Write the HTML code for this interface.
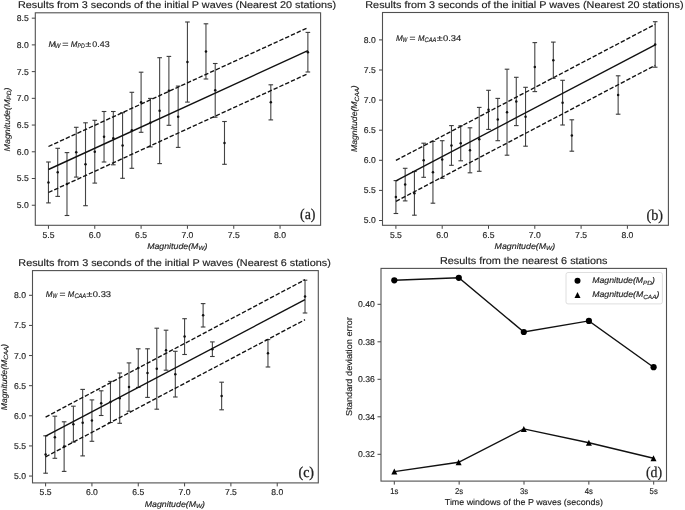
<!DOCTYPE html>
<html><head><meta charset="utf-8"><title>figure</title>
<style>
html,body{margin:0;padding:0;background:#fff;}
body{width:685px;height:510px;overflow:hidden;}
svg{display:block;}
.t{stroke:#222;stroke-width:0.15px;}

</style></head><body>
<svg style="filter:blur(0.3px)" text-rendering="geometricPrecision" width="685" height="510" viewBox="0 0 685 510">
<rect width="685" height="510" fill="#fff"/>
<text x="18" y="7.7" font-size="9.8" fill="#222" font-family='"Liberation Sans", sans-serif' textLength="318" lengthAdjust="spacingAndGlyphs" class="t">Results from 3 seconds of the initial P waves (Nearest 20 stations)</text>
<line x1="48.45" y1="225.3" x2="48.45" y2="228.8" stroke="#444" stroke-width="1" />
<text x="48.45" y="237.5" font-size="8.5" fill="#222" font-family='"Liberation Sans", sans-serif' text-anchor="middle" textLength="12" lengthAdjust="spacingAndGlyphs" class="t">5.5</text>
<line x1="94.78" y1="225.3" x2="94.78" y2="228.8" stroke="#444" stroke-width="1" />
<text x="94.78" y="237.5" font-size="8.5" fill="#222" font-family='"Liberation Sans", sans-serif' text-anchor="middle" textLength="12" lengthAdjust="spacingAndGlyphs" class="t">6.0</text>
<line x1="141.1" y1="225.3" x2="141.1" y2="228.8" stroke="#444" stroke-width="1" />
<text x="141.1" y="237.5" font-size="8.5" fill="#222" font-family='"Liberation Sans", sans-serif' text-anchor="middle" textLength="12" lengthAdjust="spacingAndGlyphs" class="t">6.5</text>
<line x1="187.43" y1="225.3" x2="187.43" y2="228.8" stroke="#444" stroke-width="1" />
<text x="187.43" y="237.5" font-size="8.5" fill="#222" font-family='"Liberation Sans", sans-serif' text-anchor="middle" textLength="12" lengthAdjust="spacingAndGlyphs" class="t">7.0</text>
<line x1="233.75" y1="225.3" x2="233.75" y2="228.8" stroke="#444" stroke-width="1" />
<text x="233.75" y="237.5" font-size="8.5" fill="#222" font-family='"Liberation Sans", sans-serif' text-anchor="middle" textLength="12" lengthAdjust="spacingAndGlyphs" class="t">7.5</text>
<line x1="280.07" y1="225.3" x2="280.07" y2="228.8" stroke="#444" stroke-width="1" />
<text x="280.07" y="237.5" font-size="8.5" fill="#222" font-family='"Liberation Sans", sans-serif' text-anchor="middle" textLength="12" lengthAdjust="spacingAndGlyphs" class="t">8.0</text>
<line x1="31.8" y1="205.24" x2="35.3" y2="205.24" stroke="#444" stroke-width="1" />
<text x="28.8" y="208.19" font-size="8.5" fill="#222" font-family='"Liberation Sans", sans-serif' text-anchor="end" textLength="12" lengthAdjust="spacingAndGlyphs" class="t">5.0</text>
<line x1="31.8" y1="178.51" x2="35.3" y2="178.51" stroke="#444" stroke-width="1" />
<text x="28.8" y="181.46" font-size="8.5" fill="#222" font-family='"Liberation Sans", sans-serif' text-anchor="end" textLength="12" lengthAdjust="spacingAndGlyphs" class="t">5.5</text>
<line x1="31.8" y1="151.79" x2="35.3" y2="151.79" stroke="#444" stroke-width="1" />
<text x="28.8" y="154.74" font-size="8.5" fill="#222" font-family='"Liberation Sans", sans-serif' text-anchor="end" textLength="12" lengthAdjust="spacingAndGlyphs" class="t">6.0</text>
<line x1="31.8" y1="125.06" x2="35.3" y2="125.06" stroke="#444" stroke-width="1" />
<text x="28.8" y="128.01" font-size="8.5" fill="#222" font-family='"Liberation Sans", sans-serif' text-anchor="end" textLength="12" lengthAdjust="spacingAndGlyphs" class="t">6.5</text>
<line x1="31.8" y1="98.34" x2="35.3" y2="98.34" stroke="#444" stroke-width="1" />
<text x="28.8" y="101.29" font-size="8.5" fill="#222" font-family='"Liberation Sans", sans-serif' text-anchor="end" textLength="12" lengthAdjust="spacingAndGlyphs" class="t">7.0</text>
<line x1="31.8" y1="71.61" x2="35.3" y2="71.61" stroke="#444" stroke-width="1" />
<text x="28.8" y="74.56" font-size="8.5" fill="#222" font-family='"Liberation Sans", sans-serif' text-anchor="end" textLength="12" lengthAdjust="spacingAndGlyphs" class="t">7.5</text>
<line x1="31.8" y1="44.89" x2="35.3" y2="44.89" stroke="#444" stroke-width="1" />
<text x="28.8" y="47.84" font-size="8.5" fill="#222" font-family='"Liberation Sans", sans-serif' text-anchor="end" textLength="12" lengthAdjust="spacingAndGlyphs" class="t">8.0</text>
<line x1="31.8" y1="18.16" x2="35.3" y2="18.16" stroke="#444" stroke-width="1" />
<text x="28.8" y="21.11" font-size="8.5" fill="#222" font-family='"Liberation Sans", sans-serif' text-anchor="end" textLength="12" lengthAdjust="spacingAndGlyphs" class="t">8.5</text>
<line x1="48.45" y1="162" x2="48.45" y2="202.9" stroke="#444" stroke-width="1.1" />
<line x1="46.15" y1="162" x2="50.75" y2="162" stroke="#3a3a3a" stroke-width="1.1" />
<line x1="46.15" y1="202.9" x2="50.75" y2="202.9" stroke="#3a3a3a" stroke-width="1.1" />
<circle cx="48.45" cy="182.45" r="1.25" fill="#111"/>
<line x1="57.71" y1="148.3" x2="57.71" y2="196.4" stroke="#444" stroke-width="1.1" />
<line x1="55.41" y1="148.3" x2="60.01" y2="148.3" stroke="#3a3a3a" stroke-width="1.1" />
<line x1="55.41" y1="196.4" x2="60.01" y2="196.4" stroke="#3a3a3a" stroke-width="1.1" />
<circle cx="57.71" cy="172.35" r="1.25" fill="#111"/>
<line x1="66.98" y1="152.6" x2="66.98" y2="215.5" stroke="#444" stroke-width="1.1" />
<line x1="64.68" y1="152.6" x2="69.28" y2="152.6" stroke="#3a3a3a" stroke-width="1.1" />
<line x1="64.68" y1="215.5" x2="69.28" y2="215.5" stroke="#3a3a3a" stroke-width="1.1" />
<circle cx="66.98" cy="184.05" r="1.25" fill="#111"/>
<line x1="76.24" y1="127.3" x2="76.24" y2="177.1" stroke="#444" stroke-width="1.1" />
<line x1="73.94" y1="127.3" x2="78.54" y2="127.3" stroke="#3a3a3a" stroke-width="1.1" />
<line x1="73.94" y1="177.1" x2="78.54" y2="177.1" stroke="#3a3a3a" stroke-width="1.1" />
<circle cx="76.24" cy="152.2" r="1.25" fill="#111"/>
<line x1="85.51" y1="122.8" x2="85.51" y2="205.7" stroke="#444" stroke-width="1.1" />
<line x1="83.21" y1="122.8" x2="87.81" y2="122.8" stroke="#3a3a3a" stroke-width="1.1" />
<line x1="83.21" y1="205.7" x2="87.81" y2="205.7" stroke="#3a3a3a" stroke-width="1.1" />
<circle cx="85.51" cy="164.25" r="1.25" fill="#111"/>
<line x1="94.78" y1="120.3" x2="94.78" y2="183.1" stroke="#444" stroke-width="1.1" />
<line x1="92.48" y1="120.3" x2="97.08" y2="120.3" stroke="#3a3a3a" stroke-width="1.1" />
<line x1="92.48" y1="183.1" x2="97.08" y2="183.1" stroke="#3a3a3a" stroke-width="1.1" />
<circle cx="94.78" cy="151.7" r="1.25" fill="#111"/>
<line x1="104.04" y1="111.5" x2="104.04" y2="162" stroke="#444" stroke-width="1.1" />
<line x1="101.74" y1="111.5" x2="106.34" y2="111.5" stroke="#3a3a3a" stroke-width="1.1" />
<line x1="101.74" y1="162" x2="106.34" y2="162" stroke="#3a3a3a" stroke-width="1.1" />
<circle cx="104.04" cy="136.75" r="1.25" fill="#111"/>
<line x1="113.31" y1="111.5" x2="113.31" y2="164.8" stroke="#444" stroke-width="1.1" />
<line x1="111.01" y1="111.5" x2="115.61" y2="111.5" stroke="#3a3a3a" stroke-width="1.1" />
<line x1="111.01" y1="164.8" x2="115.61" y2="164.8" stroke="#3a3a3a" stroke-width="1.1" />
<circle cx="113.31" cy="138.15" r="1.25" fill="#111"/>
<line x1="122.57" y1="112.7" x2="122.57" y2="178.3" stroke="#444" stroke-width="1.1" />
<line x1="120.27" y1="112.7" x2="124.87" y2="112.7" stroke="#3a3a3a" stroke-width="1.1" />
<line x1="120.27" y1="178.3" x2="124.87" y2="178.3" stroke="#3a3a3a" stroke-width="1.1" />
<circle cx="122.57" cy="145.5" r="1.25" fill="#111"/>
<line x1="131.84" y1="92.3" x2="131.84" y2="168.3" stroke="#444" stroke-width="1.1" />
<line x1="129.54" y1="92.3" x2="134.14" y2="92.3" stroke="#3a3a3a" stroke-width="1.1" />
<line x1="129.54" y1="168.3" x2="134.14" y2="168.3" stroke="#3a3a3a" stroke-width="1.1" />
<circle cx="131.84" cy="130.3" r="1.25" fill="#111"/>
<line x1="141.1" y1="72.2" x2="141.1" y2="132.3" stroke="#444" stroke-width="1.1" />
<line x1="138.8" y1="72.2" x2="143.4" y2="72.2" stroke="#3a3a3a" stroke-width="1.1" />
<line x1="138.8" y1="132.3" x2="143.4" y2="132.3" stroke="#3a3a3a" stroke-width="1.1" />
<circle cx="141.1" cy="102.25" r="1.25" fill="#111"/>
<line x1="150.36" y1="98.4" x2="150.36" y2="146.9" stroke="#444" stroke-width="1.1" />
<line x1="148.06" y1="98.4" x2="152.66" y2="98.4" stroke="#3a3a3a" stroke-width="1.1" />
<line x1="148.06" y1="146.9" x2="152.66" y2="146.9" stroke="#3a3a3a" stroke-width="1.1" />
<circle cx="150.36" cy="122.65" r="1.25" fill="#111"/>
<line x1="159.63" y1="57.7" x2="159.63" y2="163.6" stroke="#444" stroke-width="1.1" />
<line x1="157.33" y1="57.7" x2="161.93" y2="57.7" stroke="#3a3a3a" stroke-width="1.1" />
<line x1="157.33" y1="163.6" x2="161.93" y2="163.6" stroke="#3a3a3a" stroke-width="1.1" />
<circle cx="159.63" cy="110.65" r="1.25" fill="#111"/>
<line x1="168.89" y1="56.4" x2="168.89" y2="125.3" stroke="#444" stroke-width="1.1" />
<line x1="166.59" y1="56.4" x2="171.19" y2="56.4" stroke="#3a3a3a" stroke-width="1.1" />
<line x1="166.59" y1="125.3" x2="171.19" y2="125.3" stroke="#3a3a3a" stroke-width="1.1" />
<circle cx="168.89" cy="90.85" r="1.25" fill="#111"/>
<line x1="178.16" y1="86.1" x2="178.16" y2="147.4" stroke="#444" stroke-width="1.1" />
<line x1="175.86" y1="86.1" x2="180.46" y2="86.1" stroke="#3a3a3a" stroke-width="1.1" />
<line x1="175.86" y1="147.4" x2="180.46" y2="147.4" stroke="#3a3a3a" stroke-width="1.1" />
<circle cx="178.16" cy="116.75" r="1.25" fill="#111"/>
<line x1="187.43" y1="22" x2="187.43" y2="102.1" stroke="#444" stroke-width="1.1" />
<line x1="185.12" y1="22" x2="189.73" y2="22" stroke="#3a3a3a" stroke-width="1.1" />
<line x1="185.12" y1="102.1" x2="189.73" y2="102.1" stroke="#3a3a3a" stroke-width="1.1" />
<circle cx="187.43" cy="62.05" r="1.25" fill="#111"/>
<line x1="205.96" y1="23.8" x2="205.96" y2="79" stroke="#444" stroke-width="1.1" />
<line x1="203.66" y1="23.8" x2="208.26" y2="23.8" stroke="#3a3a3a" stroke-width="1.1" />
<line x1="203.66" y1="79" x2="208.26" y2="79" stroke="#3a3a3a" stroke-width="1.1" />
<circle cx="205.96" cy="51.4" r="1.25" fill="#111"/>
<line x1="215.22" y1="63.5" x2="215.22" y2="117.2" stroke="#444" stroke-width="1.1" />
<line x1="212.92" y1="63.5" x2="217.52" y2="63.5" stroke="#3a3a3a" stroke-width="1.1" />
<line x1="212.92" y1="117.2" x2="217.52" y2="117.2" stroke="#3a3a3a" stroke-width="1.1" />
<circle cx="215.22" cy="90.35" r="1.25" fill="#111"/>
<line x1="224.49" y1="121.5" x2="224.49" y2="164.3" stroke="#444" stroke-width="1.1" />
<line x1="222.19" y1="121.5" x2="226.79" y2="121.5" stroke="#3a3a3a" stroke-width="1.1" />
<line x1="222.19" y1="164.3" x2="226.79" y2="164.3" stroke="#3a3a3a" stroke-width="1.1" />
<circle cx="224.49" cy="142.9" r="1.25" fill="#111"/>
<line x1="270.81" y1="84.8" x2="270.81" y2="119.9" stroke="#444" stroke-width="1.1" />
<line x1="268.51" y1="84.8" x2="273.11" y2="84.8" stroke="#3a3a3a" stroke-width="1.1" />
<line x1="268.51" y1="119.9" x2="273.11" y2="119.9" stroke="#3a3a3a" stroke-width="1.1" />
<circle cx="270.81" cy="102.35" r="1.25" fill="#111"/>
<line x1="307.87" y1="32.4" x2="307.87" y2="72" stroke="#444" stroke-width="1.1" />
<line x1="305.57" y1="32.4" x2="310.17" y2="32.4" stroke="#3a3a3a" stroke-width="1.1" />
<line x1="305.57" y1="72" x2="310.17" y2="72" stroke="#3a3a3a" stroke-width="1.1" />
<circle cx="307.87" cy="52.2" r="1.25" fill="#111"/>
<line x1="48.45" y1="169.5" x2="307.87" y2="50.7" stroke="#111" stroke-width="1.4" />
<line x1="48.45" y1="146.5" x2="307.87" y2="27.7" stroke="#111" stroke-width="1.35" stroke-dasharray="4.4 1.95"/>
<line x1="48.45" y1="192.5" x2="307.87" y2="73.7" stroke="#111" stroke-width="1.35" stroke-dasharray="4.4 1.95"/>
<rect x="35.3" y="12.8" width="285.3" height="212.5" fill="none" stroke="#505050" stroke-width="1.1"/>
<text x="48.4" y="46.8" font-size="8.3" fill="#222" font-family='"Liberation Sans", sans-serif' textLength="7" lengthAdjust="spacingAndGlyphs" font-style="italic" class="t">M</text>
<text x="54.8" y="48.21" font-size="6.64" fill="#222" font-family='"Liberation Sans", sans-serif' textLength="5.6" lengthAdjust="spacingAndGlyphs" font-style="italic" class="t">W</text>
<text x="62.3" y="46.8" font-size="8.3" fill="#222" font-family='"Liberation Sans", sans-serif' textLength="6.3" lengthAdjust="spacingAndGlyphs" class="t">=</text>
<text x="70.8" y="46.8" font-size="8.3" fill="#222" font-family='"Liberation Sans", sans-serif' textLength="6.7" lengthAdjust="spacingAndGlyphs" font-style="italic" class="t">M</text>
<text x="77.5" y="48.21" font-size="6.64" fill="#222" font-family='"Liberation Sans", sans-serif' textLength="7.3" lengthAdjust="spacingAndGlyphs" font-style="italic" class="t">PD</text>
<text x="85.6" y="46.8" font-size="8.3" fill="#222" font-family='"Liberation Sans", sans-serif' textLength="5.7" lengthAdjust="spacingAndGlyphs" class="t">±</text>
<text x="92.3" y="46.8" font-size="8.3" fill="#222" font-family='"Liberation Sans", sans-serif' textLength="17.3" lengthAdjust="spacingAndGlyphs" class="t">0.43</text>
<text x="177.3" y="249.1" font-size="8.3" fill="#222" font-family='"Liberation Sans", sans-serif' text-anchor="middle" textLength="60.2" lengthAdjust="spacingAndGlyphs" class="t"><tspan font-style="italic">Magnitude(M</tspan><tspan font-style="italic" font-size="6.14" dy="1.33">W</tspan><tspan font-style="italic" dy="-1.33">)</tspan></text>
<text x="9.9" y="119.5" font-size="8.3" fill="#222" font-family='"Liberation Sans", sans-serif' text-anchor="middle" textLength="63.8" lengthAdjust="spacingAndGlyphs" transform="rotate(-90 9.9 119.5)" class="t"><tspan font-style="italic">Magnitude(M</tspan><tspan font-style="italic" font-size="6.14" dy="1.33">PD</tspan><tspan font-style="italic" dy="-1.33">)</tspan></text>
<text x="300" y="219.2" font-size="15" fill="#222" font-family='"Liberation Serif", serif' textLength="15.5" lengthAdjust="spacingAndGlyphs" stroke="#222" stroke-width="0.25">(a)</text>
<text x="365.3" y="7.8" font-size="9.8" fill="#222" font-family='"Liberation Sans", sans-serif' textLength="318.2" lengthAdjust="spacingAndGlyphs" class="t">Results from 3 seconds of the initial P waves (Nearest 20 stations)</text>
<line x1="395.9" y1="225.3" x2="395.9" y2="228.8" stroke="#444" stroke-width="1" />
<text x="395.9" y="237.5" font-size="8.5" fill="#222" font-family='"Liberation Sans", sans-serif' text-anchor="middle" textLength="12" lengthAdjust="spacingAndGlyphs" class="t">5.5</text>
<line x1="442.2" y1="225.3" x2="442.2" y2="228.8" stroke="#444" stroke-width="1" />
<text x="442.2" y="237.5" font-size="8.5" fill="#222" font-family='"Liberation Sans", sans-serif' text-anchor="middle" textLength="12" lengthAdjust="spacingAndGlyphs" class="t">6.0</text>
<line x1="488.5" y1="225.3" x2="488.5" y2="228.8" stroke="#444" stroke-width="1" />
<text x="488.5" y="237.5" font-size="8.5" fill="#222" font-family='"Liberation Sans", sans-serif' text-anchor="middle" textLength="12" lengthAdjust="spacingAndGlyphs" class="t">6.5</text>
<line x1="534.8" y1="225.3" x2="534.8" y2="228.8" stroke="#444" stroke-width="1" />
<text x="534.8" y="237.5" font-size="8.5" fill="#222" font-family='"Liberation Sans", sans-serif' text-anchor="middle" textLength="12" lengthAdjust="spacingAndGlyphs" class="t">7.0</text>
<line x1="581.1" y1="225.3" x2="581.1" y2="228.8" stroke="#444" stroke-width="1" />
<text x="581.1" y="237.5" font-size="8.5" fill="#222" font-family='"Liberation Sans", sans-serif' text-anchor="middle" textLength="12" lengthAdjust="spacingAndGlyphs" class="t">7.5</text>
<line x1="627.4" y1="225.3" x2="627.4" y2="228.8" stroke="#444" stroke-width="1" />
<text x="627.4" y="237.5" font-size="8.5" fill="#222" font-family='"Liberation Sans", sans-serif' text-anchor="middle" textLength="12" lengthAdjust="spacingAndGlyphs" class="t">8.0</text>
<line x1="379" y1="220.5" x2="382.5" y2="220.5" stroke="#444" stroke-width="1" />
<text x="375.8" y="223.45" font-size="8.5" fill="#222" font-family='"Liberation Sans", sans-serif' text-anchor="end" textLength="12" lengthAdjust="spacingAndGlyphs" class="t">5.0</text>
<line x1="379" y1="190.4" x2="382.5" y2="190.4" stroke="#444" stroke-width="1" />
<text x="375.8" y="193.35" font-size="8.5" fill="#222" font-family='"Liberation Sans", sans-serif' text-anchor="end" textLength="12" lengthAdjust="spacingAndGlyphs" class="t">5.5</text>
<line x1="379" y1="160.3" x2="382.5" y2="160.3" stroke="#444" stroke-width="1" />
<text x="375.8" y="163.25" font-size="8.5" fill="#222" font-family='"Liberation Sans", sans-serif' text-anchor="end" textLength="12" lengthAdjust="spacingAndGlyphs" class="t">6.0</text>
<line x1="379" y1="130.2" x2="382.5" y2="130.2" stroke="#444" stroke-width="1" />
<text x="375.8" y="133.15" font-size="8.5" fill="#222" font-family='"Liberation Sans", sans-serif' text-anchor="end" textLength="12" lengthAdjust="spacingAndGlyphs" class="t">6.5</text>
<line x1="379" y1="100.1" x2="382.5" y2="100.1" stroke="#444" stroke-width="1" />
<text x="375.8" y="103.05" font-size="8.5" fill="#222" font-family='"Liberation Sans", sans-serif' text-anchor="end" textLength="12" lengthAdjust="spacingAndGlyphs" class="t">7.0</text>
<line x1="379" y1="70" x2="382.5" y2="70" stroke="#444" stroke-width="1" />
<text x="375.8" y="72.95" font-size="8.5" fill="#222" font-family='"Liberation Sans", sans-serif' text-anchor="end" textLength="12" lengthAdjust="spacingAndGlyphs" class="t">7.5</text>
<line x1="379" y1="39.9" x2="382.5" y2="39.9" stroke="#444" stroke-width="1" />
<text x="375.8" y="42.85" font-size="8.5" fill="#222" font-family='"Liberation Sans", sans-serif' text-anchor="end" textLength="12" lengthAdjust="spacingAndGlyphs" class="t">8.0</text>
<line x1="395.9" y1="180.6" x2="395.9" y2="213.5" stroke="#444" stroke-width="1.1" />
<line x1="393.6" y1="180.6" x2="398.2" y2="180.6" stroke="#3a3a3a" stroke-width="1.1" />
<line x1="393.6" y1="213.5" x2="398.2" y2="213.5" stroke="#3a3a3a" stroke-width="1.1" />
<circle cx="395.9" cy="197.05" r="1.25" fill="#111"/>
<line x1="405.16" y1="168.3" x2="405.16" y2="200.9" stroke="#444" stroke-width="1.1" />
<line x1="402.86" y1="168.3" x2="407.46" y2="168.3" stroke="#3a3a3a" stroke-width="1.1" />
<line x1="402.86" y1="200.9" x2="407.46" y2="200.9" stroke="#3a3a3a" stroke-width="1.1" />
<circle cx="405.16" cy="184.6" r="1.25" fill="#111"/>
<line x1="414.42" y1="171.5" x2="414.42" y2="215.2" stroke="#444" stroke-width="1.1" />
<line x1="412.12" y1="171.5" x2="416.72" y2="171.5" stroke="#3a3a3a" stroke-width="1.1" />
<line x1="412.12" y1="215.2" x2="416.72" y2="215.2" stroke="#3a3a3a" stroke-width="1.1" />
<circle cx="414.42" cy="193.35" r="1.25" fill="#111"/>
<line x1="423.68" y1="143.2" x2="423.68" y2="177.3" stroke="#444" stroke-width="1.1" />
<line x1="421.38" y1="143.2" x2="425.98" y2="143.2" stroke="#3a3a3a" stroke-width="1.1" />
<line x1="421.38" y1="177.3" x2="425.98" y2="177.3" stroke="#3a3a3a" stroke-width="1.1" />
<circle cx="423.68" cy="160.25" r="1.25" fill="#111"/>
<line x1="432.94" y1="141.4" x2="432.94" y2="203.2" stroke="#444" stroke-width="1.1" />
<line x1="430.64" y1="141.4" x2="435.24" y2="141.4" stroke="#3a3a3a" stroke-width="1.1" />
<line x1="430.64" y1="203.2" x2="435.24" y2="203.2" stroke="#3a3a3a" stroke-width="1.1" />
<circle cx="432.94" cy="172.3" r="1.25" fill="#111"/>
<line x1="442.2" y1="140.7" x2="442.2" y2="178.3" stroke="#444" stroke-width="1.1" />
<line x1="439.9" y1="140.7" x2="444.5" y2="140.7" stroke="#3a3a3a" stroke-width="1.1" />
<line x1="439.9" y1="178.3" x2="444.5" y2="178.3" stroke="#3a3a3a" stroke-width="1.1" />
<circle cx="442.2" cy="159.5" r="1.25" fill="#111"/>
<line x1="451.46" y1="125.6" x2="451.46" y2="165.3" stroke="#444" stroke-width="1.1" />
<line x1="449.16" y1="125.6" x2="453.76" y2="125.6" stroke="#3a3a3a" stroke-width="1.1" />
<line x1="449.16" y1="165.3" x2="453.76" y2="165.3" stroke="#3a3a3a" stroke-width="1.1" />
<circle cx="451.46" cy="145.45" r="1.25" fill="#111"/>
<line x1="460.72" y1="125.8" x2="460.72" y2="160.8" stroke="#444" stroke-width="1.1" />
<line x1="458.42" y1="125.8" x2="463.02" y2="125.8" stroke="#3a3a3a" stroke-width="1.1" />
<line x1="458.42" y1="160.8" x2="463.02" y2="160.8" stroke="#3a3a3a" stroke-width="1.1" />
<circle cx="460.72" cy="143.3" r="1.25" fill="#111"/>
<line x1="469.98" y1="127.8" x2="469.98" y2="172.8" stroke="#444" stroke-width="1.1" />
<line x1="467.68" y1="127.8" x2="472.28" y2="127.8" stroke="#3a3a3a" stroke-width="1.1" />
<line x1="467.68" y1="172.8" x2="472.28" y2="172.8" stroke="#3a3a3a" stroke-width="1.1" />
<circle cx="469.98" cy="150.3" r="1.25" fill="#111"/>
<line x1="479.24" y1="107.4" x2="479.24" y2="171.3" stroke="#444" stroke-width="1.1" />
<line x1="476.94" y1="107.4" x2="481.54" y2="107.4" stroke="#3a3a3a" stroke-width="1.1" />
<line x1="476.94" y1="171.3" x2="481.54" y2="171.3" stroke="#3a3a3a" stroke-width="1.1" />
<circle cx="479.24" cy="139.35" r="1.25" fill="#111"/>
<line x1="488.5" y1="90.3" x2="488.5" y2="129.4" stroke="#444" stroke-width="1.1" />
<line x1="486.2" y1="90.3" x2="490.8" y2="90.3" stroke="#3a3a3a" stroke-width="1.1" />
<line x1="486.2" y1="129.4" x2="490.8" y2="129.4" stroke="#3a3a3a" stroke-width="1.1" />
<circle cx="488.5" cy="109.85" r="1.25" fill="#111"/>
<line x1="497.76" y1="98.4" x2="497.76" y2="140.7" stroke="#444" stroke-width="1.1" />
<line x1="495.46" y1="98.4" x2="500.06" y2="98.4" stroke="#3a3a3a" stroke-width="1.1" />
<line x1="495.46" y1="140.7" x2="500.06" y2="140.7" stroke="#3a3a3a" stroke-width="1.1" />
<circle cx="497.76" cy="119.55" r="1.25" fill="#111"/>
<line x1="507.02" y1="69.2" x2="507.02" y2="155.2" stroke="#444" stroke-width="1.1" />
<line x1="504.72" y1="69.2" x2="509.32" y2="69.2" stroke="#3a3a3a" stroke-width="1.1" />
<line x1="504.72" y1="155.2" x2="509.32" y2="155.2" stroke="#3a3a3a" stroke-width="1.1" />
<circle cx="507.02" cy="112.2" r="1.25" fill="#111"/>
<line x1="516.28" y1="77.3" x2="516.28" y2="125.6" stroke="#444" stroke-width="1.1" />
<line x1="513.98" y1="77.3" x2="518.58" y2="77.3" stroke="#3a3a3a" stroke-width="1.1" />
<line x1="513.98" y1="125.6" x2="518.58" y2="125.6" stroke="#3a3a3a" stroke-width="1.1" />
<circle cx="516.28" cy="101.45" r="1.25" fill="#111"/>
<line x1="525.54" y1="87.3" x2="525.54" y2="146.2" stroke="#444" stroke-width="1.1" />
<line x1="523.24" y1="87.3" x2="527.84" y2="87.3" stroke="#3a3a3a" stroke-width="1.1" />
<line x1="523.24" y1="146.2" x2="527.84" y2="146.2" stroke="#3a3a3a" stroke-width="1.1" />
<circle cx="525.54" cy="116.75" r="1.25" fill="#111"/>
<line x1="534.8" y1="42.6" x2="534.8" y2="91.6" stroke="#444" stroke-width="1.1" />
<line x1="532.5" y1="42.6" x2="537.1" y2="42.6" stroke="#3a3a3a" stroke-width="1.1" />
<line x1="532.5" y1="91.6" x2="537.1" y2="91.6" stroke="#3a3a3a" stroke-width="1.1" />
<circle cx="534.8" cy="67.1" r="1.25" fill="#111"/>
<line x1="553.32" y1="42.1" x2="553.32" y2="78.3" stroke="#444" stroke-width="1.1" />
<line x1="551.02" y1="42.1" x2="555.62" y2="42.1" stroke="#3a3a3a" stroke-width="1.1" />
<line x1="551.02" y1="78.3" x2="555.62" y2="78.3" stroke="#3a3a3a" stroke-width="1.1" />
<circle cx="553.32" cy="60.2" r="1.25" fill="#111"/>
<line x1="562.58" y1="80.3" x2="562.58" y2="125" stroke="#444" stroke-width="1.1" />
<line x1="560.28" y1="80.3" x2="564.88" y2="80.3" stroke="#3a3a3a" stroke-width="1.1" />
<line x1="560.28" y1="125" x2="564.88" y2="125" stroke="#3a3a3a" stroke-width="1.1" />
<circle cx="562.58" cy="102.65" r="1.25" fill="#111"/>
<line x1="571.84" y1="119.8" x2="571.84" y2="151.2" stroke="#444" stroke-width="1.1" />
<line x1="569.54" y1="119.8" x2="574.14" y2="119.8" stroke="#3a3a3a" stroke-width="1.1" />
<line x1="569.54" y1="151.2" x2="574.14" y2="151.2" stroke="#3a3a3a" stroke-width="1.1" />
<circle cx="571.84" cy="135.5" r="1.25" fill="#111"/>
<line x1="618.14" y1="75.8" x2="618.14" y2="114.2" stroke="#444" stroke-width="1.1" />
<line x1="615.84" y1="75.8" x2="620.44" y2="75.8" stroke="#3a3a3a" stroke-width="1.1" />
<line x1="615.84" y1="114.2" x2="620.44" y2="114.2" stroke="#3a3a3a" stroke-width="1.1" />
<circle cx="618.14" cy="95" r="1.25" fill="#111"/>
<line x1="655.18" y1="21.7" x2="655.18" y2="67.2" stroke="#444" stroke-width="1.1" />
<line x1="652.88" y1="21.7" x2="657.48" y2="21.7" stroke="#3a3a3a" stroke-width="1.1" />
<line x1="652.88" y1="67.2" x2="657.48" y2="67.2" stroke="#3a3a3a" stroke-width="1.1" />
<circle cx="655.18" cy="44.45" r="1.25" fill="#111"/>
<line x1="395.9" y1="180.9" x2="655.18" y2="44.8" stroke="#111" stroke-width="1.4" />
<line x1="395.9" y1="160.4" x2="655.18" y2="24.3" stroke="#111" stroke-width="1.35" stroke-dasharray="4.4 1.95"/>
<line x1="395.9" y1="201.4" x2="655.18" y2="65.3" stroke="#111" stroke-width="1.35" stroke-dasharray="4.4 1.95"/>
<rect x="382.5" y="12.5" width="285.9" height="212.8" fill="none" stroke="#505050" stroke-width="1.1"/>
<text x="396" y="40.8" font-size="8.3" fill="#222" font-family='"Liberation Sans", sans-serif' textLength="6.8" lengthAdjust="spacingAndGlyphs" font-style="italic" class="t">M</text>
<text x="402.6" y="42.21" font-size="6.64" fill="#222" font-family='"Liberation Sans", sans-serif' textLength="4.7" lengthAdjust="spacingAndGlyphs" font-style="italic" class="t">W</text>
<text x="409.6" y="40.8" font-size="8.3" fill="#222" font-family='"Liberation Sans", sans-serif' textLength="6" lengthAdjust="spacingAndGlyphs" class="t">=</text>
<text x="417.9" y="40.8" font-size="8.3" fill="#222" font-family='"Liberation Sans", sans-serif' textLength="6.5" lengthAdjust="spacingAndGlyphs" font-style="italic" class="t">M</text>
<text x="424.6" y="42.21" font-size="6.64" fill="#222" font-family='"Liberation Sans", sans-serif' textLength="11.8" lengthAdjust="spacingAndGlyphs" font-style="italic" class="t">CAA</text>
<text x="436.8" y="40.8" font-size="8.3" fill="#222" font-family='"Liberation Sans", sans-serif' textLength="5.9" lengthAdjust="spacingAndGlyphs" class="t">±</text>
<text x="443" y="40.8" font-size="8.3" fill="#222" font-family='"Liberation Sans", sans-serif' textLength="18.3" lengthAdjust="spacingAndGlyphs" class="t">0.34</text>
<text x="524.9" y="249.1" font-size="8.3" fill="#222" font-family='"Liberation Sans", sans-serif' text-anchor="middle" textLength="60.6" lengthAdjust="spacingAndGlyphs" class="t"><tspan font-style="italic">Magnitude(M</tspan><tspan font-style="italic" font-size="6.14" dy="1.33">W</tspan><tspan font-style="italic" dy="-1.33">)</tspan></text>
<text x="357.4" y="118.7" font-size="8.3" fill="#222" font-family='"Liberation Sans", sans-serif' text-anchor="middle" textLength="66.7" lengthAdjust="spacingAndGlyphs" transform="rotate(-90 357.4 118.7)" class="t"><tspan font-style="italic">Magnitude(M</tspan><tspan font-style="italic" font-size="6.14" dy="1.33">CAA</tspan><tspan font-style="italic" dy="-1.33">)</tspan></text>
<text x="646.5" y="219.8" font-size="15" fill="#222" font-family='"Liberation Serif", serif' textLength="16.5" lengthAdjust="spacingAndGlyphs" stroke="#222" stroke-width="0.25">(b)</text>
<text x="18.3" y="265.7" font-size="9.8" fill="#222" font-family='"Liberation Sans", sans-serif' textLength="312.5" lengthAdjust="spacingAndGlyphs" class="t">Results from 3 seconds of the initial P waves (Nearest 6 stations)</text>
<line x1="45.6" y1="482.9" x2="45.6" y2="486.4" stroke="#444" stroke-width="1" />
<text x="45.6" y="495.1" font-size="8.5" fill="#222" font-family='"Liberation Sans", sans-serif' text-anchor="middle" textLength="12" lengthAdjust="spacingAndGlyphs" class="t">5.5</text>
<line x1="91.93" y1="482.9" x2="91.93" y2="486.4" stroke="#444" stroke-width="1" />
<text x="91.93" y="495.1" font-size="8.5" fill="#222" font-family='"Liberation Sans", sans-serif' text-anchor="middle" textLength="12" lengthAdjust="spacingAndGlyphs" class="t">6.0</text>
<line x1="138.25" y1="482.9" x2="138.25" y2="486.4" stroke="#444" stroke-width="1" />
<text x="138.25" y="495.1" font-size="8.5" fill="#222" font-family='"Liberation Sans", sans-serif' text-anchor="middle" textLength="12" lengthAdjust="spacingAndGlyphs" class="t">6.5</text>
<line x1="184.58" y1="482.9" x2="184.58" y2="486.4" stroke="#444" stroke-width="1" />
<text x="184.58" y="495.1" font-size="8.5" fill="#222" font-family='"Liberation Sans", sans-serif' text-anchor="middle" textLength="12" lengthAdjust="spacingAndGlyphs" class="t">7.0</text>
<line x1="230.9" y1="482.9" x2="230.9" y2="486.4" stroke="#444" stroke-width="1" />
<text x="230.9" y="495.1" font-size="8.5" fill="#222" font-family='"Liberation Sans", sans-serif' text-anchor="middle" textLength="12" lengthAdjust="spacingAndGlyphs" class="t">7.5</text>
<line x1="277.23" y1="482.9" x2="277.23" y2="486.4" stroke="#444" stroke-width="1" />
<text x="277.23" y="495.1" font-size="8.5" fill="#222" font-family='"Liberation Sans", sans-serif' text-anchor="middle" textLength="12" lengthAdjust="spacingAndGlyphs" class="t">8.0</text>
<line x1="29" y1="476.05" x2="32.5" y2="476.05" stroke="#444" stroke-width="1" />
<text x="26" y="479" font-size="8.5" fill="#222" font-family='"Liberation Sans", sans-serif' text-anchor="end" textLength="12" lengthAdjust="spacingAndGlyphs" class="t">5.0</text>
<line x1="29" y1="445.93" x2="32.5" y2="445.93" stroke="#444" stroke-width="1" />
<text x="26" y="448.88" font-size="8.5" fill="#222" font-family='"Liberation Sans", sans-serif' text-anchor="end" textLength="12" lengthAdjust="spacingAndGlyphs" class="t">5.5</text>
<line x1="29" y1="415.8" x2="32.5" y2="415.8" stroke="#444" stroke-width="1" />
<text x="26" y="418.75" font-size="8.5" fill="#222" font-family='"Liberation Sans", sans-serif' text-anchor="end" textLength="12" lengthAdjust="spacingAndGlyphs" class="t">6.0</text>
<line x1="29" y1="385.68" x2="32.5" y2="385.68" stroke="#444" stroke-width="1" />
<text x="26" y="388.62" font-size="8.5" fill="#222" font-family='"Liberation Sans", sans-serif' text-anchor="end" textLength="12" lengthAdjust="spacingAndGlyphs" class="t">6.5</text>
<line x1="29" y1="355.55" x2="32.5" y2="355.55" stroke="#444" stroke-width="1" />
<text x="26" y="358.5" font-size="8.5" fill="#222" font-family='"Liberation Sans", sans-serif' text-anchor="end" textLength="12" lengthAdjust="spacingAndGlyphs" class="t">7.0</text>
<line x1="29" y1="325.43" x2="32.5" y2="325.43" stroke="#444" stroke-width="1" />
<text x="26" y="328.38" font-size="8.5" fill="#222" font-family='"Liberation Sans", sans-serif' text-anchor="end" textLength="12" lengthAdjust="spacingAndGlyphs" class="t">7.5</text>
<line x1="29" y1="295.3" x2="32.5" y2="295.3" stroke="#444" stroke-width="1" />
<text x="26" y="298.25" font-size="8.5" fill="#222" font-family='"Liberation Sans", sans-serif' text-anchor="end" textLength="12" lengthAdjust="spacingAndGlyphs" class="t">8.0</text>
<line x1="45.6" y1="435.8" x2="45.6" y2="473.2" stroke="#444" stroke-width="1.1" />
<line x1="43.3" y1="435.8" x2="47.9" y2="435.8" stroke="#3a3a3a" stroke-width="1.1" />
<line x1="43.3" y1="473.2" x2="47.9" y2="473.2" stroke="#3a3a3a" stroke-width="1.1" />
<circle cx="45.6" cy="454.5" r="1.25" fill="#111"/>
<line x1="54.86" y1="416.2" x2="54.86" y2="458.3" stroke="#444" stroke-width="1.1" />
<line x1="52.56" y1="416.2" x2="57.16" y2="416.2" stroke="#3a3a3a" stroke-width="1.1" />
<line x1="52.56" y1="458.3" x2="57.16" y2="458.3" stroke="#3a3a3a" stroke-width="1.1" />
<circle cx="54.86" cy="437.25" r="1.25" fill="#111"/>
<line x1="64.13" y1="421.8" x2="64.13" y2="471.4" stroke="#444" stroke-width="1.1" />
<line x1="61.83" y1="421.8" x2="66.43" y2="421.8" stroke="#3a3a3a" stroke-width="1.1" />
<line x1="61.83" y1="471.4" x2="66.43" y2="471.4" stroke="#3a3a3a" stroke-width="1.1" />
<circle cx="64.13" cy="446.6" r="1.25" fill="#111"/>
<line x1="73.39" y1="406.2" x2="73.39" y2="442.1" stroke="#444" stroke-width="1.1" />
<line x1="71.09" y1="406.2" x2="75.69" y2="406.2" stroke="#3a3a3a" stroke-width="1.1" />
<line x1="71.09" y1="442.1" x2="75.69" y2="442.1" stroke="#3a3a3a" stroke-width="1.1" />
<circle cx="73.39" cy="424.15" r="1.25" fill="#111"/>
<line x1="82.66" y1="389.4" x2="82.66" y2="455.9" stroke="#444" stroke-width="1.1" />
<line x1="80.36" y1="389.4" x2="84.96" y2="389.4" stroke="#3a3a3a" stroke-width="1.1" />
<line x1="80.36" y1="455.9" x2="84.96" y2="455.9" stroke="#3a3a3a" stroke-width="1.1" />
<circle cx="82.66" cy="422.65" r="1.25" fill="#111"/>
<line x1="91.93" y1="399.9" x2="91.93" y2="441.3" stroke="#444" stroke-width="1.1" />
<line x1="89.63" y1="399.9" x2="94.23" y2="399.9" stroke="#3a3a3a" stroke-width="1.1" />
<line x1="89.63" y1="441.3" x2="94.23" y2="441.3" stroke="#3a3a3a" stroke-width="1.1" />
<circle cx="91.93" cy="420.6" r="1.25" fill="#111"/>
<line x1="101.19" y1="390.8" x2="101.19" y2="415.5" stroke="#444" stroke-width="1.1" />
<line x1="98.89" y1="390.8" x2="103.49" y2="390.8" stroke="#3a3a3a" stroke-width="1.1" />
<line x1="98.89" y1="415.5" x2="103.49" y2="415.5" stroke="#3a3a3a" stroke-width="1.1" />
<circle cx="101.19" cy="403.15" r="1.25" fill="#111"/>
<line x1="110.46" y1="381.4" x2="110.46" y2="422.5" stroke="#444" stroke-width="1.1" />
<line x1="108.16" y1="381.4" x2="112.76" y2="381.4" stroke="#3a3a3a" stroke-width="1.1" />
<line x1="108.16" y1="422.5" x2="112.76" y2="422.5" stroke="#3a3a3a" stroke-width="1.1" />
<circle cx="110.46" cy="401.95" r="1.25" fill="#111"/>
<line x1="119.72" y1="373" x2="119.72" y2="423.3" stroke="#444" stroke-width="1.1" />
<line x1="117.42" y1="373" x2="122.02" y2="373" stroke="#3a3a3a" stroke-width="1.1" />
<line x1="117.42" y1="423.3" x2="122.02" y2="423.3" stroke="#3a3a3a" stroke-width="1.1" />
<circle cx="119.72" cy="398.15" r="1.25" fill="#111"/>
<line x1="128.99" y1="362.9" x2="128.99" y2="411.2" stroke="#444" stroke-width="1.1" />
<line x1="126.69" y1="362.9" x2="131.29" y2="362.9" stroke="#3a3a3a" stroke-width="1.1" />
<line x1="126.69" y1="411.2" x2="131.29" y2="411.2" stroke="#3a3a3a" stroke-width="1.1" />
<circle cx="128.99" cy="387.05" r="1.25" fill="#111"/>
<line x1="138.25" y1="348.8" x2="138.25" y2="387.4" stroke="#444" stroke-width="1.1" />
<line x1="135.95" y1="348.8" x2="140.55" y2="348.8" stroke="#3a3a3a" stroke-width="1.1" />
<line x1="135.95" y1="387.4" x2="140.55" y2="387.4" stroke="#3a3a3a" stroke-width="1.1" />
<circle cx="138.25" cy="368.1" r="1.25" fill="#111"/>
<line x1="147.51" y1="348.8" x2="147.51" y2="397.4" stroke="#444" stroke-width="1.1" />
<line x1="145.21" y1="348.8" x2="149.81" y2="348.8" stroke="#3a3a3a" stroke-width="1.1" />
<line x1="145.21" y1="397.4" x2="149.81" y2="397.4" stroke="#3a3a3a" stroke-width="1.1" />
<circle cx="147.51" cy="373.1" r="1.25" fill="#111"/>
<line x1="156.78" y1="328.2" x2="156.78" y2="409.2" stroke="#444" stroke-width="1.1" />
<line x1="154.48" y1="328.2" x2="159.08" y2="328.2" stroke="#3a3a3a" stroke-width="1.1" />
<line x1="154.48" y1="409.2" x2="159.08" y2="409.2" stroke="#3a3a3a" stroke-width="1.1" />
<circle cx="156.78" cy="368.7" r="1.25" fill="#111"/>
<line x1="166.04" y1="330.2" x2="166.04" y2="370.2" stroke="#444" stroke-width="1.1" />
<line x1="163.74" y1="330.2" x2="168.34" y2="330.2" stroke="#3a3a3a" stroke-width="1.1" />
<line x1="163.74" y1="370.2" x2="168.34" y2="370.2" stroke="#3a3a3a" stroke-width="1.1" />
<circle cx="166.04" cy="350.2" r="1.25" fill="#111"/>
<line x1="175.31" y1="351.3" x2="175.31" y2="397" stroke="#444" stroke-width="1.1" />
<line x1="173.01" y1="351.3" x2="177.61" y2="351.3" stroke="#3a3a3a" stroke-width="1.1" />
<line x1="173.01" y1="397" x2="177.61" y2="397" stroke="#3a3a3a" stroke-width="1.1" />
<circle cx="175.31" cy="374.15" r="1.25" fill="#111"/>
<line x1="184.58" y1="318.7" x2="184.58" y2="354.5" stroke="#444" stroke-width="1.1" />
<line x1="182.28" y1="318.7" x2="186.88" y2="318.7" stroke="#3a3a3a" stroke-width="1.1" />
<line x1="182.28" y1="354.5" x2="186.88" y2="354.5" stroke="#3a3a3a" stroke-width="1.1" />
<circle cx="184.58" cy="336.6" r="1.25" fill="#111"/>
<line x1="203.11" y1="303.6" x2="203.11" y2="327" stroke="#444" stroke-width="1.1" />
<line x1="200.81" y1="303.6" x2="205.41" y2="303.6" stroke="#3a3a3a" stroke-width="1.1" />
<line x1="200.81" y1="327" x2="205.41" y2="327" stroke="#3a3a3a" stroke-width="1.1" />
<circle cx="203.11" cy="315.3" r="1.25" fill="#111"/>
<line x1="212.37" y1="341.9" x2="212.37" y2="356.5" stroke="#444" stroke-width="1.1" />
<line x1="210.07" y1="341.9" x2="214.67" y2="341.9" stroke="#3a3a3a" stroke-width="1.1" />
<line x1="210.07" y1="356.5" x2="214.67" y2="356.5" stroke="#3a3a3a" stroke-width="1.1" />
<circle cx="212.37" cy="349.2" r="1.25" fill="#111"/>
<line x1="221.64" y1="382.2" x2="221.64" y2="409.8" stroke="#444" stroke-width="1.1" />
<line x1="219.34" y1="382.2" x2="223.94" y2="382.2" stroke="#3a3a3a" stroke-width="1.1" />
<line x1="219.34" y1="409.8" x2="223.94" y2="409.8" stroke="#3a3a3a" stroke-width="1.1" />
<circle cx="221.64" cy="396" r="1.25" fill="#111"/>
<line x1="267.96" y1="339.6" x2="267.96" y2="367" stroke="#444" stroke-width="1.1" />
<line x1="265.66" y1="339.6" x2="270.26" y2="339.6" stroke="#3a3a3a" stroke-width="1.1" />
<line x1="265.66" y1="367" x2="270.26" y2="367" stroke="#3a3a3a" stroke-width="1.1" />
<circle cx="267.96" cy="353.3" r="1.25" fill="#111"/>
<line x1="305.02" y1="280.2" x2="305.02" y2="313" stroke="#444" stroke-width="1.1" />
<line x1="302.72" y1="280.2" x2="307.32" y2="280.2" stroke="#3a3a3a" stroke-width="1.1" />
<line x1="302.72" y1="313" x2="307.32" y2="313" stroke="#3a3a3a" stroke-width="1.1" />
<circle cx="305.02" cy="296.6" r="1.25" fill="#111"/>
<line x1="45.6" y1="436.1" x2="305.02" y2="299.7" stroke="#111" stroke-width="1.4" />
<line x1="45.6" y1="417.1" x2="305.02" y2="279.7" stroke="#111" stroke-width="1.35" stroke-dasharray="4.4 1.95"/>
<line x1="45.6" y1="456.8" x2="305.02" y2="319.7" stroke="#111" stroke-width="1.35" stroke-dasharray="4.4 1.95"/>
<rect x="32.5" y="270.6" width="285.8" height="212.3" fill="none" stroke="#505050" stroke-width="1.1"/>
<text x="45.8" y="296.5" font-size="8.3" fill="#222" font-family='"Liberation Sans", sans-serif' textLength="6.8" lengthAdjust="spacingAndGlyphs" font-style="italic" class="t">M</text>
<text x="52.4" y="297.91" font-size="6.64" fill="#222" font-family='"Liberation Sans", sans-serif' textLength="4.7" lengthAdjust="spacingAndGlyphs" font-style="italic" class="t">W</text>
<text x="59.4" y="296.5" font-size="8.3" fill="#222" font-family='"Liberation Sans", sans-serif' textLength="6" lengthAdjust="spacingAndGlyphs" class="t">=</text>
<text x="67.7" y="296.5" font-size="8.3" fill="#222" font-family='"Liberation Sans", sans-serif' textLength="6.5" lengthAdjust="spacingAndGlyphs" font-style="italic" class="t">M</text>
<text x="74.4" y="297.91" font-size="6.64" fill="#222" font-family='"Liberation Sans", sans-serif' textLength="11.8" lengthAdjust="spacingAndGlyphs" font-style="italic" class="t">CAA</text>
<text x="86.6" y="296.5" font-size="8.3" fill="#222" font-family='"Liberation Sans", sans-serif' textLength="5.9" lengthAdjust="spacingAndGlyphs" class="t">±</text>
<text x="92.8" y="296.5" font-size="8.3" fill="#222" font-family='"Liberation Sans", sans-serif' textLength="18.3" lengthAdjust="spacingAndGlyphs" class="t">0.33</text>
<text x="174.9" y="507" font-size="8.3" fill="#222" font-family='"Liberation Sans", sans-serif' text-anchor="middle" textLength="60.3" lengthAdjust="spacingAndGlyphs" class="t"><tspan font-style="italic">Magnitude(M</tspan><tspan font-style="italic" font-size="6.14" dy="1.33">W</tspan><tspan font-style="italic" dy="-1.33">)</tspan></text>
<text x="7" y="377" font-size="8.3" fill="#222" font-family='"Liberation Sans", sans-serif' text-anchor="middle" textLength="66.5" lengthAdjust="spacingAndGlyphs" transform="rotate(-90 7 377)" class="t"><tspan font-style="italic">Magnitude(M</tspan><tspan font-style="italic" font-size="6.14" dy="1.33">CAA</tspan><tspan font-style="italic" dy="-1.33">)</tspan></text>
<text x="298.5" y="476.8" font-size="15" font-family='"Liberation Serif", serif' fill="#222" stroke="#222" stroke-width="0.35" textLength="15.5" lengthAdjust="spacingAndGlyphs">(c)</text>
<text x="440" y="263.8" font-size="10" fill="#222" font-family='"Liberation Sans", sans-serif' textLength="167.5" lengthAdjust="spacingAndGlyphs" class="t">Results from the nearest 6 stations</text>
<line x1="394.3" y1="481.1" x2="394.3" y2="484.6" stroke="#444" stroke-width="1" />
<text x="394.3" y="493.6" font-size="8.5" fill="#222" font-family='"Liberation Sans", sans-serif' text-anchor="middle" textLength="8.2" lengthAdjust="spacingAndGlyphs" class="t">1s</text>
<line x1="459.15" y1="481.1" x2="459.15" y2="484.6" stroke="#444" stroke-width="1" />
<text x="459.15" y="493.6" font-size="8.5" fill="#222" font-family='"Liberation Sans", sans-serif' text-anchor="middle" textLength="8.2" lengthAdjust="spacingAndGlyphs" class="t">2s</text>
<line x1="524" y1="481.1" x2="524" y2="484.6" stroke="#444" stroke-width="1" />
<text x="524" y="493.6" font-size="8.5" fill="#222" font-family='"Liberation Sans", sans-serif' text-anchor="middle" textLength="8.2" lengthAdjust="spacingAndGlyphs" class="t">3s</text>
<line x1="588.85" y1="481.1" x2="588.85" y2="484.6" stroke="#444" stroke-width="1" />
<text x="588.85" y="493.6" font-size="8.5" fill="#222" font-family='"Liberation Sans", sans-serif' text-anchor="middle" textLength="8.2" lengthAdjust="spacingAndGlyphs" class="t">4s</text>
<line x1="653.7" y1="481.1" x2="653.7" y2="484.6" stroke="#444" stroke-width="1" />
<text x="653.7" y="493.6" font-size="8.5" fill="#222" font-family='"Liberation Sans", sans-serif' text-anchor="middle" textLength="8.2" lengthAdjust="spacingAndGlyphs" class="t">5s</text>
<line x1="377.5" y1="454.3" x2="381" y2="454.3" stroke="#444" stroke-width="1" />
<text x="374.8" y="457.25" font-size="8.5" fill="#222" font-family='"Liberation Sans", sans-serif' text-anchor="end" textLength="16.9" lengthAdjust="spacingAndGlyphs" class="t">0.32</text>
<line x1="377.5" y1="416.8" x2="381" y2="416.8" stroke="#444" stroke-width="1" />
<text x="374.8" y="419.75" font-size="8.5" fill="#222" font-family='"Liberation Sans", sans-serif' text-anchor="end" textLength="16.9" lengthAdjust="spacingAndGlyphs" class="t">0.34</text>
<line x1="377.5" y1="379.3" x2="381" y2="379.3" stroke="#444" stroke-width="1" />
<text x="374.8" y="382.25" font-size="8.5" fill="#222" font-family='"Liberation Sans", sans-serif' text-anchor="end" textLength="16.9" lengthAdjust="spacingAndGlyphs" class="t">0.36</text>
<line x1="377.5" y1="341.8" x2="381" y2="341.8" stroke="#444" stroke-width="1" />
<text x="374.8" y="344.75" font-size="8.5" fill="#222" font-family='"Liberation Sans", sans-serif' text-anchor="end" textLength="16.9" lengthAdjust="spacingAndGlyphs" class="t">0.38</text>
<line x1="377.5" y1="304.3" x2="381" y2="304.3" stroke="#444" stroke-width="1" />
<text x="374.8" y="307.25" font-size="8.5" fill="#222" font-family='"Liberation Sans", sans-serif' text-anchor="end" textLength="16.9" lengthAdjust="spacingAndGlyphs" class="t">0.40</text>
<polyline points="394.3,280.3 458.8,277.8 523.8,332 588.9,320.9 653.6,367.2" fill="none" stroke="#111" stroke-width="1.4"/>
<polyline points="394.3,471.6 458.6,462.3 523.8,428.9 588.9,442.8 653.5,458.3" fill="none" stroke="#111" stroke-width="1.4"/>
<circle cx="394.3" cy="280.3" r="3.1" fill="#000"/>
<circle cx="458.8" cy="277.8" r="3.1" fill="#000"/>
<circle cx="523.8" cy="332" r="3.1" fill="#000"/>
<circle cx="588.9" cy="320.9" r="3.1" fill="#000"/>
<circle cx="653.6" cy="367.2" r="3.1" fill="#000"/>
<polygon points="394.3,468.6 391.3,474.6 397.3,474.6" fill="#000"/>
<polygon points="458.6,459.3 455.6,465.3 461.6,465.3" fill="#000"/>
<polygon points="523.8,425.9 520.8,431.9 526.8,431.9" fill="#000"/>
<polygon points="588.9,439.8 585.9,445.8 591.9,445.8" fill="#000"/>
<polygon points="653.5,455.3 650.5,461.3 656.5,461.3" fill="#000"/>
<rect x="381" y="268.4" width="285.5" height="212.7" fill="none" stroke="#505050" stroke-width="1.1"/>
<rect x="566" y="272.5" width="96.4" height="31.4" rx="2" fill="#fff" fill-opacity="0.8" stroke="#dadada" stroke-width="0.9"/>
<circle cx="577.5" cy="280.8" r="3.0" fill="#000"/>
<polygon points="577.5,292 574.5,298 580.5,298" fill="#000"/>
<text x="592.2" y="283.4" font-size="8.3" fill="#222" font-family='"Liberation Sans", sans-serif' textLength="62.7" lengthAdjust="spacingAndGlyphs" class="t"><tspan font-style="italic">Magnitude(M</tspan><tspan font-style="italic" font-size="6.14" dy="1.33">PD</tspan><tspan font-style="italic" dy="-1.33">)</tspan></text>
<text x="592.2" y="297.4" font-size="8.3" fill="#222" font-family='"Liberation Sans", sans-serif' textLength="67.2" lengthAdjust="spacingAndGlyphs" class="t"><tspan font-style="italic">Magnitude(M</tspan><tspan font-style="italic" font-size="6.14" dy="1.33">CAA</tspan><tspan font-style="italic" dy="-1.33">)</tspan></text>
<text x="523.85" y="504.7" font-size="8.6" fill="#222" font-family='"Liberation Sans", sans-serif' text-anchor="middle" textLength="158.1" lengthAdjust="spacingAndGlyphs" class="t">Time windows of the P waves (seconds)</text>
<text x="352.1" y="366.5" font-size="8.6" fill="#222" font-family='"Liberation Sans", sans-serif' text-anchor="middle" textLength="98.8" lengthAdjust="spacingAndGlyphs" transform="rotate(-90 352.1 366.5)" class="t">Standard deviation error</text>
<text x="646" y="476.5" font-size="15" font-family='"Liberation Serif", serif' fill="#222" stroke="#222" stroke-width="0.25" textLength="16.2" lengthAdjust="spacingAndGlyphs">(d)</text>
</svg>
</body></html>
